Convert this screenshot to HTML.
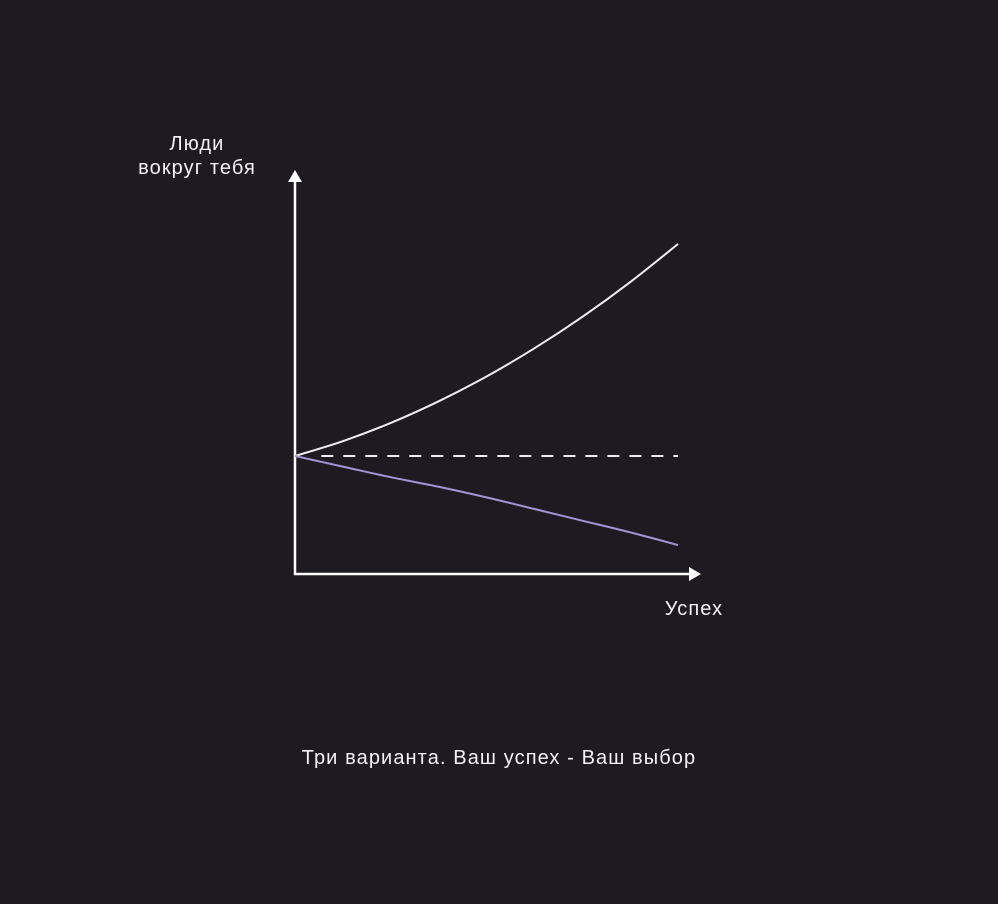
<!DOCTYPE html>
<html><head><meta charset="utf-8"><style>
body{margin:0;background:#1e1a22;}
svg{display:block}
text{font-family:"Liberation Sans","DejaVu Sans",sans-serif;fill:#f4f2f6;font-size:20px;letter-spacing:1.1px}
</style></head><body>
<svg width="998" height="904" viewBox="0 0 998 904">
<rect width="998" height="904" fill="#1e1a22"/>
<text x="197" y="150" text-anchor="middle">Люди</text>
<text x="197" y="174" text-anchor="middle">вокруг тебя</text>
<text x="694" y="615" text-anchor="middle">Успех</text>
<text x="499" y="764" text-anchor="middle">Три варианта. Ваш успех - Ваш выбор</text>
<line x1="295" y1="180" x2="295" y2="575" stroke="#fff" stroke-width="2.5"/>
<polygon points="295,170 288,182 302,182" fill="#fff"/>
<line x1="294" y1="574" x2="690" y2="574" stroke="#fff" stroke-width="2.5"/>
<polygon points="701,574 689,567 689,581" fill="#fff"/>
<g id="series"></g>
</svg>
<script>
const categories=[0,1,2,3,4,5,6,7,8];
const growthValues=[0,0.7,1.56,2.58,3.75,5.08,6.56,8.2,10];
const declineValues=[0,-0.5,-1.0,-1.45,-1.95,-2.5,-3.05,-3.6,-4.2];
const flatValues=[0,0];
const flatCategories=[0.55,8];
const xScale=c=>295+c*(678-295)/8;
const yScale=v=>456-v*21.2;
const g=document.getElementById('series');
function path(xs,ys,color,name,dash){
  const pts=xs.map((c,i)=>[xScale(c),yScale(ys[i])]);
  let d='M'+pts[0][0]+','+pts[0][1];
  for(let i=0;i<pts.length-1;i++){
    const p0=pts[Math.max(i-1,0)],p1=pts[i],p2=pts[i+1],p3=pts[Math.min(i+2,pts.length-1)];
    const c1=[p1[0]+(p2[0]-p0[0])/6,p1[1]+(p2[1]-p0[1])/6];
    const c2=[p2[0]-(p3[0]-p1[0])/6,p2[1]-(p3[1]-p1[1])/6];
    d+='C'+c1+' '+c2+' '+p2;
  }
  const p=document.createElementNS('http://www.w3.org/2000/svg','path');
  p.setAttribute('d',d);
  p.setAttribute('fill','none');p.setAttribute('stroke',color);p.setAttribute('stroke-width','2');
  if(dash)p.setAttribute('stroke-dasharray',dash);
  
  
  g.appendChild(p);
}
path(categories,growthValues,'#eeeef2','growth-line');
path(categories,declineValues,'#a394d6','decline-line');
path(flatCategories,flatValues,'#eeeef2','flat-dashed-line','12,10');
</script>
</body></html>
